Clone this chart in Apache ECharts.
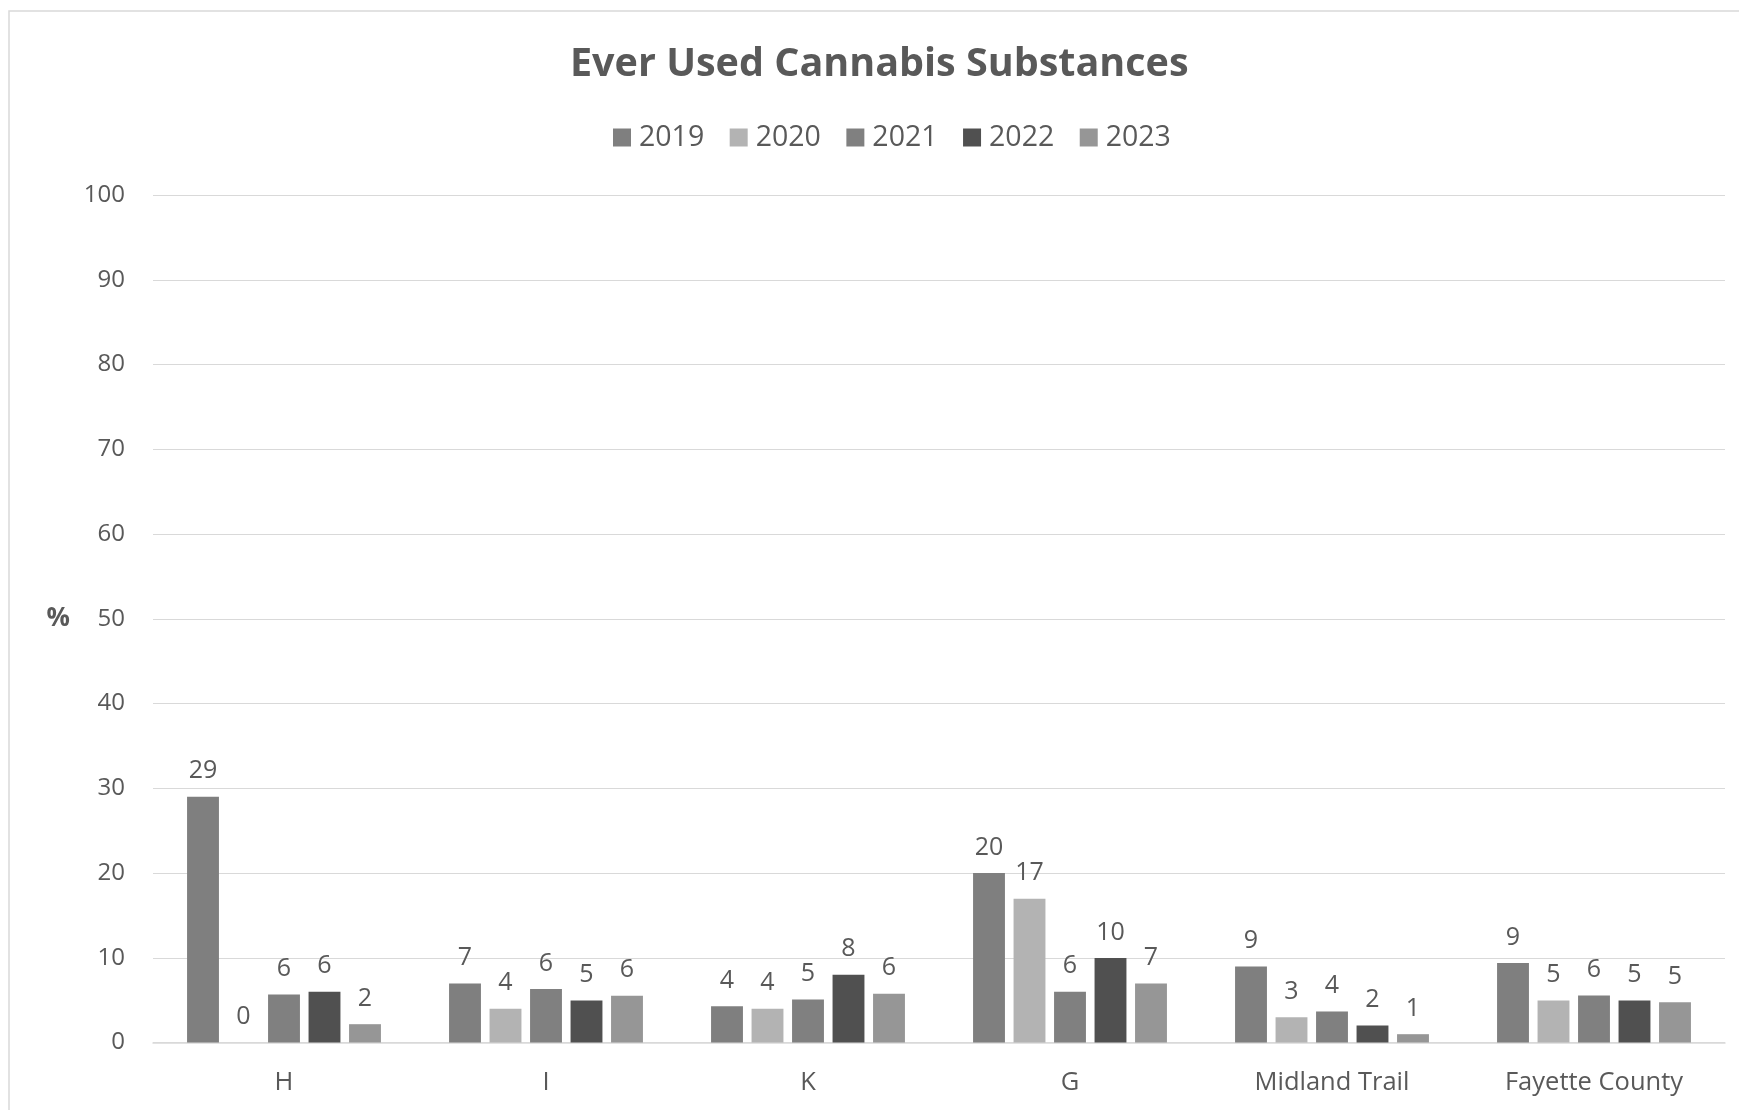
<!DOCTYPE html>
<html>
<head>
<meta charset="utf-8">
<script src="https://cdn.jsdelivr.net/npm/echarts@6/dist/echarts.min.js"></script>
<style>
html,body{margin:0;padding:0;background:#fff;}
#c{width:1739px;height:1110px;}
</style>
</head>
<body>
<div id="c"></div>
<script>
const categories = ['H', 'I', 'K', 'G', 'Midland Trail', 'Fayette County'];
const years = ['2019', '2020', '2021', '2022', '2023'];
const v2019 = [29.0, 6.97, 4.29, 20.0, 8.98, 9.37];
const v2020 = [0, 3.97, 3.97, 16.96, 2.99, 4.96];
const v2021 = [5.67, 6.3, 5.08, 5.98, 3.66, 5.55];
const v2022 = [5.98, 4.96, 7.99, 9.96, 2.0, 4.96];
const v2023 = [2.16, 5.52, 5.74, 6.97, 0.98, 4.76];
const yTicks = [0, 10, 20, 30, 40, 50, 60, 70, 80, 90, 100];
const colors = ['#7f7f7f', '#b3b3b3', '#808080', '#505050', '#969696'];

const seriesValues = [v2019, v2020, v2021, v2022, v2023];
const textColor = '#595959';
const font = 'Open Sans';

const chart = echarts.init(document.getElementById('c'));
chart.setOption({
  backgroundColor: '#fff',
  animation: false,
  color: colors,
  title: {
    text: 'Ever Used Cannabis Substances',
    left: 570,
    top: 45,
    padding: 0,
    textStyle: { fontFamily: font, fontWeight: 'bold', fontSize: 39.5, color: textColor }
  },
  legend: {
    data: years,
    top: 118,
    left: 608,
    padding: 5,
    itemWidth: 18,
    itemHeight: 18,
    itemGap: 25.5,
    icon: 'rect',
    textStyle: { fontFamily: font, fontSize: 28.5, color: textColor, padding: [0, 0, 0, 3] }
  },
  graphic: [{
    type: 'rect',
    shape: { x: 9, y: 11, width: 1800, height: 1200 },
    style: { fill: 'none', stroke: '#d9d9d9', lineWidth: 1.5 },
    silent: true
  }],
  grid: { left: 153, right: 14, top: 195, bottom: 67.5, containLabel: false },
  xAxis: {
    type: 'category',
    data: categories,
    axisLine: { lineStyle: { color: '#d9d9d9', width: 1.5 } },
    axisTick: { show: false },
    axisLabel: { fontFamily: font, fontSize: 25.5, color: textColor, margin: 27 }
  },
  yAxis: {
    type: 'value',
    min: yTicks[0],
    max: yTicks[yTicks.length - 1],
    interval: 10,
    name: '%',
    nameLocation: 'middle',
    nameRotate: 0,
    nameGap: 83,
    nameTextStyle: { fontFamily: font, fontSize: 26, fontWeight: 'bold', color: textColor, padding: [20, 0, 0, 0] },
    axisLine: { show: false },
    axisTick: { show: false },
    splitLine: { lineStyle: { color: '#d9d9d9', width: 1.2 } },
    axisLabel: { fontFamily: font, fontSize: 24, color: textColor, margin: 28 }
  },
  series: years.map((y, i) => ({
    name: y,
    type: 'bar',
    data: seriesValues[i],
    barGap: '27%',
    barCategoryGap: '26%',
    itemStyle: { color: colors[i] },
    label: {
      show: true,
      position: 'top',
      distance: 13,
      fontFamily: font,
      fontSize: 25,
      color: textColor,
      formatter: p => Math.round(p.value)
    }
  }))
});
</script>
</body>
</html>
